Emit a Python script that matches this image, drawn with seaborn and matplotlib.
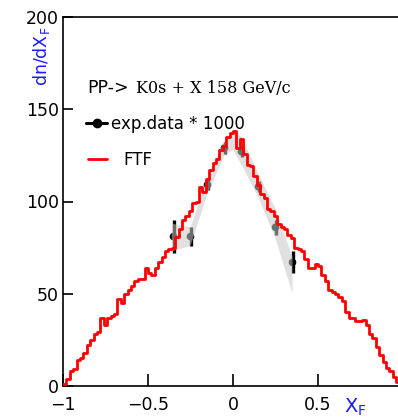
import numpy as np
import pandas as pd
import matplotlib
matplotlib.use("Agg")
import matplotlib.pyplot as plt
import seaborn as sns
from matplotlib.lines import Line2D

# ---------------- data ----------------
n_bins = 100
xf_range = (-1.0, 1.0)
xf_edges = np.linspace(xf_range[0], xf_range[1], n_bins + 1)
xf_centers = np.round((xf_edges[:-1] + xf_edges[1:]) / 2, 3)
ftf_values = [
    1, 4, 8, 9, 14, 15, 18, 22, 25, 28,
    29, 37, 33, 37, 38, 39, 47, 45, 50, 52,
    54, 57, 58, 58, 64, 61, 60, 64, 67, 70,
    73, 74, 75, 81, 85, 90, 92, 95, 99, 100,
    108, 105, 112, 117, 121, 123, 128, 130, 135, 137,
    138, 129, 134, 126, 120, 119, 114, 109, 104, 102,
    96, 95, 92, 88, 86, 85, 82, 80, 75, 74,
    73, 69, 64, 64, 66, 65, 60, 57, 52, 51,
    50, 48, 46, 40, 37, 37, 35, 35, 36, 33,
    28, 26, 21, 17, 13, 10, 8, 5, 2, 0,
]

exp_x = [-0.35, -0.25, -0.15, -0.05, 0.05, 0.15, 0.25, 0.35]
exp_y = [81, 81, 109, 129, 127, 108, 86, 67]
exp_err = [9, 5, 3, 3, 3, 3, 4, 6]

band_x = [-0.36, -0.25, -0.15, -0.05, 0.0, 0.05, 0.15, 0.25, 0.35]
band_low = [73, 76, 104, 125, 128, 120, 102, 80, 50]
band_high = [88, 86, 113, 133, 138, 135, 115, 96, 70]

x_ticks = [-1, -0.5, 0, 0.5]
x_tick_labels = ["\u22121", "\u22120.5", "0", "0.5"]
y_ticks = [0, 50, 100, 150, 200]
y_tick_labels = ["0", "50", "100", "150", "200"]

hist_df = pd.DataFrame({"xF": xf_centers, "dndx": ftf_values})

# ---------------- figure ----------------
sns.set_style("ticks")
plt.rcParams["font.family"] = ["DejaVu Sans"]

W, H = 398, 417
fig = plt.figure(figsize=(W / 100, H / 100), dpi=100)
ax = fig.add_axes([63 / W, 1 - 386 / H, (W - 63) / W, (386 - 17) / H])

def fpos(px, py):
    return px / W, 1 - py / H

# experimental points (under the band)
ax.errorbar(exp_x, exp_y, yerr=exp_err, fmt="none", ecolor="black",
            elinewidth=2.4, capsize=0, zorder=2)
sns.scatterplot(x=exp_x, y=exp_y, color="black", s=30, edgecolor="none",
                ax=ax, zorder=2)

# grey band
ax.fill_between(band_x, band_low, band_high, facecolor=(0.78, 0.78, 0.78, 0.55),
                edgecolor="none", zorder=3)

# FTF histogram
sns.histplot(data=hist_df, x="xF", weights="dndx", bins=n_bins,
             binrange=xf_range, element="step", fill=False, color="#ff0000",
             linewidth=2.0, ax=ax, zorder=4)

ax.set_xlim(-1.0, -1.0 + (W - 63) / 170.0)
ax.set_ylim(0, 200)
ax.set_xticks(x_ticks)
ax.set_xticklabels(x_tick_labels)
ax.set_yticks(y_ticks)
ax.set_yticklabels(y_tick_labels)
ax.tick_params(axis="x", direction="in", length=8.5, width=1.2, pad=7,
               labelsize=12.5, colors="black")
ax.tick_params(axis="y", direction="in", length=7.5, width=1.2, pad=3,
               labelsize=12.5, colors="black")
ax.set_xlabel("")
ax.set_ylabel("")
for side in ["left", "bottom", "top"]:
    ax.spines[side].set_visible(True)
    ax.spines[side].set_color("black")
    ax.spines[side].set_linewidth(1.2)
ax.spines["right"].set_visible(False)

# axis titles (blue)
fig.text(*fpos(42, 27), "dn/dX$_{\\mathregular{F}}$", color="#1a1aff",
         rotation=90, ha="center", va="top", fontsize=12.5)
fig.text(*fpos(344, 397), "X$_{\\mathregular{F}}$", color="#1a1aff",
         ha="left", va="top", fontsize=14)

# header text
fig.text(*fpos(87, 93), "PP->", ha="left", va="baseline", fontsize=12.5,
         color="black")
fig.text(*fpos(136, 93), "K0s + X 158 GeV/c", ha="left", va="baseline",
         fontsize=11.5, family="DejaVu Serif", color="black")

# legend
x0, y0 = fpos(86, 123)
x1, _ = fpos(107, 123)
fig.add_artist(Line2D([x0, x1], [y0, y0], transform=fig.transFigure,
                      color="black", lw=2.2))
fig.add_artist(Line2D([(x0 + x1) / 2], [y0], transform=fig.transFigure,
                      color="black", marker="o", markersize=6, lw=0))
fig.text(*fpos(111, 124), "exp.data * 1000", ha="left", va="center",
         fontsize=12, color="black")
x0, y1 = fpos(88, 159)
x1, _ = fpos(107, 159)
fig.add_artist(Line2D([x0, x1], [y1, y1], transform=fig.transFigure,
                      color="#ff0000", lw=2.0))
fig.text(*fpos(123, 160), "FTF", ha="left", va="center", fontsize=12,
         color="black")

fig.savefig("out.png", dpi=100)
